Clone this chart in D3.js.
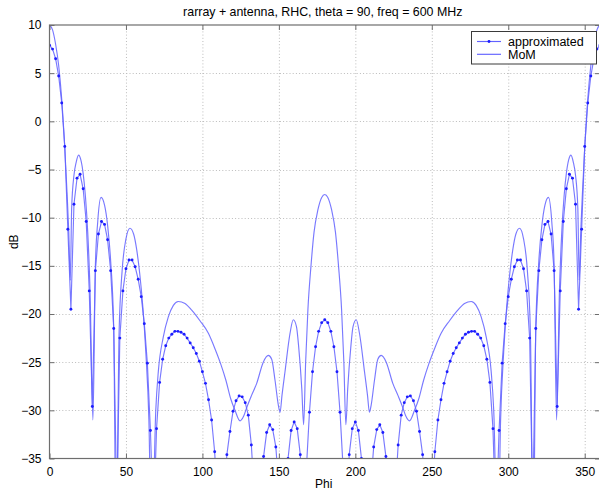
<!DOCTYPE html>
<html>
<head>
<meta charset="utf-8">
<script src="https://cdn.jsdelivr.net/npm/d3@7"></script>
<style>
  html, body { margin: 0; padding: 0; background: #fff; }
  svg { display: block; font-family: "Liberation Sans", Arial, Helvetica, sans-serif; }
</style>
</head>
<body>
<svg id="chart" width="599" height="490"></svg>
<script>
// Azimuth cut at theta = 90, 600 MHz, RHC component (dB)

// "approximated" pattern, sampled every 2 degrees from 0 to 360
const approxPhi = d3.range(0, 361, 2);
const approxDb = [
  7.9, 7.5, 6.5, 4.7, 1.9, -2.6, -11.2, -19.5, -8.6, -5.9,          // 0-18
  -5.5, -7.0, -10.4, -17.6, -29.6, -15.5, -11.7, -10.4, -10.7, -12.3, // 20-38
  -15.5, -21.5, -40, -22.5, -17.6, -15.3, -14.4, -14.4, -15.1, -16.4, // 40-58
  -18.2, -21.0, -25.1, -32.1, -42, -31.9, -27.1, -24.7, -23.3, -22.5, // 60-78
  -22.1, -21.8, -21.8, -21.9, -22.1, -22.5, -23.0, -23.5, -24.1, -24.9, // 80-98
  -26.0, -27.2, -28.9, -31.0, -34.3, -40, -45, -39, -34.6, -32.2,     // 100-118
  -30.1, -29.0, -28.5, -28.6, -29.2, -30.5, -33.6, -39, -45, -38,     // 120-138
  -34.8, -32.3, -31.5, -32.0, -33.8, -38, -45, -39, -35.0, -32.1,     // 140-158
  -31.2, -31.9, -34.6, -42, -36, -30.2, -26.0, -23.4, -21.8, -20.9,   // 160-178
  -20.6,                                                              // 180
  -20.9, -21.8, -23.4, -26.0, -30.2, -36, -42, -34.6, -31.9,          // 182-198
  -31.2, -32.1, -35.0, -39, -45, -38, -33.8, -32.0, -31.5, -32.3,     // 200-218
  -34.8, -38, -45, -39, -33.6, -30.5, -29.2, -28.6, -28.5, -29.0,     // 220-238
  -30.1, -32.2, -34.6, -39, -45, -40, -34.3, -31.0, -28.9, -27.2,     // 240-258
  -26.0, -24.9, -24.1, -23.5, -23.0, -22.5, -22.1, -21.9, -21.8, -21.8, // 260-278
  -22.1, -22.5, -23.3, -24.7, -27.1, -31.9, -42, -32.1, -25.1, -21.0, // 280-298
  -18.2, -16.4, -15.1, -14.4, -14.4, -15.3, -17.6, -22.5, -40, -21.5, // 300-318
  -15.5, -12.3, -10.7, -10.4, -11.7, -15.5, -29.6, -17.6, -10.4, -7.0, // 320-338
  -5.5, -5.9, -8.6, -19.5, -11.2, -2.6, 1.9, 4.7, 6.5, 7.5,           // 340-358
  7.9                                                                 // 360
];

// MoM reference pattern (angle in degrees, level in dB)
const momPhi = [
  0, 2, 4, 6, 8, 10, 11.5, 12.6, 13.6, 14.5, 16, 17.5, 19, 20.5, 22, 23.5, 25, 26.5, 28.4,
  30, 31.5, 33.7, 36, 38, 40, 42, 43.6, 45.5, 47.5, 50, 52.6, 55, 57, 59, 61, 63, 65, 66.8,
  69.5, 71.2, 74.4, 77.7, 81, 84.2, 88.6, 93, 98.4, 103.9, 108.2, 112, 115.4, 118.5, 121.3,
  124.6, 127, 129, 132, 135.5, 139.8, 143.1, 145.3, 147.5, 149.7, 150.8, 152, 154, 157.3,
  159.4, 161.5, 163, 165, 166.2, 167.5, 169, 171, 173, 175.5, 178, 180,
  182, 184.5, 187, 189, 191, 192.5, 193.8, 195, 197, 198.5, 200.6, 202.7, 206, 208, 209.2,
  210.3, 212.5, 214.7, 216.9, 220.2, 224.5, 228, 231, 233, 235.4, 238.7, 241.5, 244.6, 248,
  251.8, 256.1, 261.6, 267, 271.4, 275.8, 279, 282.3, 285.6, 288.8, 290.5, 293.2, 295, 297,
  299, 301, 303, 305, 307.4, 310, 312.5, 314.5, 316.4, 318, 320, 322, 324, 326.3, 328.5,
  330, 331.6, 333.5, 335, 336.5, 338, 339.5, 341, 342.5, 344, 345.5, 346.4, 347.4, 348.5,
  350, 352, 354, 356, 358, 360
];
const momDb = [
  10, 9.5, 8.0, 5.8, 2.3, -2.8, -7.5, -11.5, -16.5, -9.0, -5.6, -4.2, -3.5, -4.0, -5.4, -7.8, -11.5, -17.5, -31,
  -15, -10.5, -7.9, -8.7, -10.8, -14.5, -21.5, -45, -22, -15.5, -12.2, -11.1, -11.7, -13.3, -15.8, -19.2, -24, -31, -45,
  -30, -25.9, -22.4, -20.3, -19.1, -18.7, -18.9, -19.6, -20.7, -22.0, -23.6, -25.2, -26.9, -28.8, -30.0,
  -31.1, -30.6, -29.7, -28.5, -27.2, -25.0, -24.3, -24.7, -26.9, -29.5, -30.2, -28.5, -26.0, -22.0,
  -20.6, -21.3, -23.5, -27.8, -31.5, -25, -19.5, -15, -11.5, -9.2, -7.9, -7.6,
  -7.9, -9.2, -11.5, -15, -19.5, -25, -31.5, -27.8, -23.5, -21.3, -20.6, -22.0, -26.0, -28.5, -30.2,
  -29.5, -26.9, -24.7, -24.3, -25.0, -27.2, -28.5, -29.7, -30.6, -31.1, -30.0, -28.8, -26.9, -25.2,
  -23.6, -22.0, -20.7, -19.6, -18.9, -18.7, -19.1, -20.3, -22.4, -25.9, -30, -45, -31, -24,
  -19.2, -15.8, -13.3, -11.7, -11.1, -12.2, -15.5, -22, -45, -21.5, -14.5, -10.8, -8.7, -7.9, -10.5,
  -15, -31, -17.5, -11.5, -7.8, -5.4, -4.0, -3.5, -4.2, -5.6, -9.0, -16.5, -11.5, -7.5,
  -2.8, 2.3, 5.8, 8.0, 9.5, 10
];

const xTicks = [0, 50, 100, 150, 200, 250, 300, 350];
const yTicks = [10, 5, 0, -5, -10, -15, -20, -25, -30, -35];

const titleText = "rarray + antenna, RHC, theta = 90, freq = 600 MHz";
const xLabel = "Phi";
const yLabel = "dB";
const legendNames = ["approximated", "MoM"];

// layout
const margin = { left: 49.5, top: 25, right: 600, bottom: 458.5 };
const blue = "#6262ff";
const markerBlue = "#1c1cff";
const frameColor = "#6e6e6e";
const fontSize = 12;

const svg = d3.select("#chart");

const x = d3.scaleLinear().domain([0, 360]).range([margin.left, margin.right]);
const y = d3.scaleLinear().domain([-35, 10]).range([margin.bottom, margin.top]);

// grid
const grid = svg.append("g").attr("stroke", "#bcbcbc").attr("stroke-dasharray", "1,2.2").attr("stroke-width", 1);
xTicks.filter(t => t > 0).forEach(t => {
  grid.append("line").attr("x1", x(t) + 0.5).attr("x2", x(t) + 0.5)
    .attr("y1", margin.top).attr("y2", margin.bottom);
});
yTicks.filter(t => t > -35 && t < 10).forEach(t => {
  grid.append("line").attr("x1", margin.left).attr("x2", margin.right)
    .attr("y1", Math.round(y(t)) + 0.5).attr("y2", Math.round(y(t)) + 0.5);
});

// clipping to the plot box
svg.append("clipPath").attr("id", "plotClip").append("rect")
  .attr("x", margin.left).attr("y", margin.top)
  .attr("width", margin.right - margin.left).attr("height", margin.bottom - margin.top);

const plot = svg.append("g").attr("clip-path", "url(#plotClip)");

const momData = momPhi.map((p, i) => [p, momDb[i]]);
const approxData = approxPhi.map((p, i) => [p, approxDb[i]]);

const momLine = d3.line().x(d => x(d[0])).y(d => y(d[1])).curve(d3.curveMonotoneX);
const approxLine = d3.line().x(d => x(d[0])).y(d => y(d[1]));

plot.append("path").datum(momData).attr("d", momLine)
  .attr("fill", "none").attr("stroke", blue).attr("stroke-width", 1.15).attr("stroke-opacity", 0.85);

plot.append("path").datum(approxData).attr("d", approxLine)
  .attr("fill", "none").attr("stroke", blue).attr("stroke-width", 1.15).attr("stroke-opacity", 0.85);

plot.append("g").selectAll("circle").data(approxData).join("circle")
  .attr("cx", d => x(d[0])).attr("cy", d => y(d[1])).attr("r", 1.45)
  .attr("fill", markerBlue);

// axes frame with inward ticks
const frame = svg.append("g");
frame.append("rect").attr("x", margin.left).attr("y", margin.top)
  .attr("width", margin.right - margin.left).attr("height", margin.bottom - margin.top)
  .attr("fill", "none").attr("stroke", frameColor).attr("stroke-width", 1.2);

const xAxisB = d3.axisBottom(x).tickValues(xTicks).tickSizeInner(-5).tickSizeOuter(0).tickPadding(9);
const xAxisT = d3.axisTop(x).tickValues(xTicks).tickSizeInner(-5).tickSizeOuter(0).tickFormat("");
const yAxisL = d3.axisLeft(y).tickValues(yTicks).tickSizeInner(-5).tickSizeOuter(0).tickPadding(8);
const yAxisR = d3.axisRight(y).tickValues(yTicks).tickSizeInner(-5).tickSizeOuter(0).tickFormat("");

function styleAxis(g) {
  g.select(".domain").remove();
  g.selectAll(".tick line").attr("stroke", frameColor);
  g.selectAll(".tick text").attr("fill", "#000").attr("font-size", fontSize)
    .attr("font-family", "Liberation Sans, Arial, sans-serif");
}
svg.append("g").attr("transform", `translate(0,${margin.bottom})`).call(xAxisB).call(styleAxis);
svg.append("g").attr("transform", `translate(0,${margin.top})`).call(xAxisT).call(styleAxis);
svg.append("g").attr("transform", `translate(${margin.left},0)`).call(yAxisL).call(styleAxis);
svg.append("g").attr("transform", `translate(${margin.right},0)`).call(yAxisR).call(styleAxis);

// titles
svg.append("text").attr("x", (margin.left + margin.right) / 2 - 2).attr("y", 16)
  .attr("text-anchor", "middle").attr("font-size", 12.4).text(titleText);
svg.append("text").attr("x", (margin.left + margin.right) / 2 - 1).attr("y", 488)
  .attr("text-anchor", "middle").attr("font-size", fontSize).text(xLabel);
svg.append("text").attr("transform", `translate(18,${(margin.top + margin.bottom) / 2}) rotate(-90)`)
  .attr("text-anchor", "middle").attr("font-size", fontSize).text(yLabel);

// legend
const lg = svg.append("g");
lg.append("rect").attr("x", 471.5).attr("y", 31.5).attr("width", 125).attr("height", 32.5)
  .attr("fill", "#fff").attr("stroke", "#3a3a3a").attr("stroke-width", 1);
legendNames.forEach((name, i) => {
  const ly = 41.5 + i * 12.8;
  lg.append("line").attr("x1", 477).attr("x2", 501).attr("y1", ly).attr("y2", ly)
    .attr("stroke", blue).attr("stroke-width", 1.15);
  if (i === 0) {
    lg.append("circle").attr("cx", 489).attr("cy", ly).attr("r", 1.45).attr("fill", markerBlue);
  }
  lg.append("text").attr("x", 508).attr("y", ly + 4.3).attr("font-size", fontSize + 0.5).text(name);
});
</script>
</body>
</html>
